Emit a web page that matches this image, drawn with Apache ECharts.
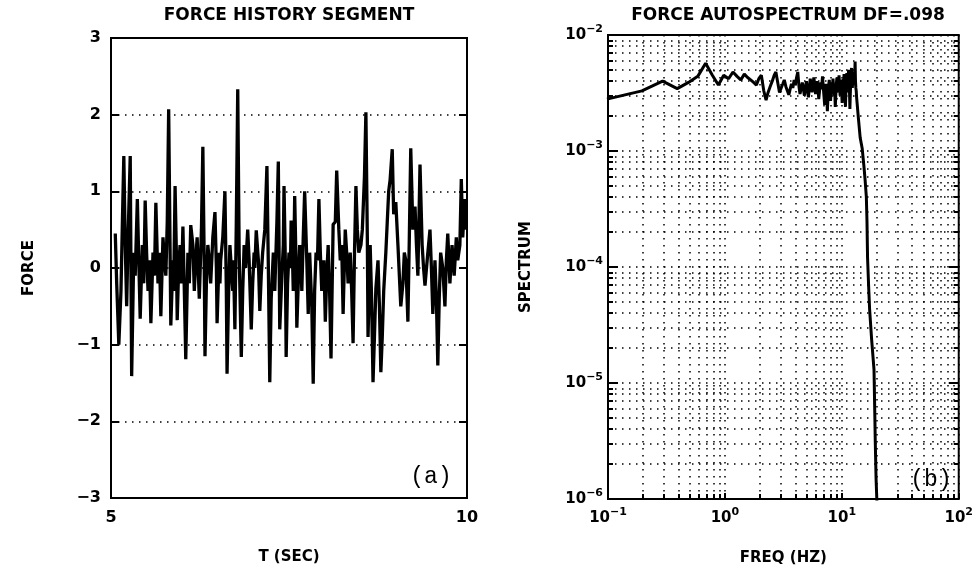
<!DOCTYPE html>
<html>
<head>
<meta charset="utf-8">
<title>Force history / autospectrum</title>
<script src="https://cdn.jsdelivr.net/npm/echarts@6/dist/echarts.min.js"></script>
<style>
  html, body { margin: 0; padding: 0; background: #fff; }
  #main { width: 976px; height: 582px; }
</style>
</head>
<body>
<div id="main"></div>
<script>
// (a) 力时程片段 [T (sec), force]
const forceHistory = [
  [5.06, 0.45], [5.08, -0.2], [5.11, -1.0], [5.14, -0.3], [5.16, 0.6], [5.18, 1.46],
  [5.2, 0.3], [5.22, -0.5], [5.24, 0.4], [5.27, 1.46], [5.29, -1.41], [5.32, 0.2],
  [5.34, -0.1], [5.37, 0.9], [5.39, 0.1], [5.41, -0.66], [5.44, 0.3], [5.46, -0.2],
  [5.48, 0.88], [5.5, 0.2], [5.52, -0.3], [5.54, 0.1], [5.56, -0.72], [5.59, 0.2],
  [5.61, -0.1], [5.63, 0.85], [5.66, -0.2], [5.68, 0.2], [5.7, -0.63], [5.73, 0.4],
  [5.75, 0.1], [5.77, -0.1], [5.79, 0.6], [5.81, 2.07], [5.83, 0.2], [5.84, -0.75],
  [5.87, 0.1], [5.88, -0.3], [5.9, 1.07], [5.92, 0.1], [5.93, -0.68], [5.95, 0.0],
  [5.97, 0.3], [5.99, -0.2], [6.01, 0.54], [6.03, -0.3], [6.05, -1.19], [6.08, 0.2],
  [6.1, -0.2], [6.12, 0.56], [6.15, 0.3], [6.17, -0.3], [6.19, 0.1], [6.21, 0.4],
  [6.22, 0.1], [6.24, -0.4], [6.27, 0.5], [6.29, 1.58], [6.31, 0.0], [6.32, -1.15],
  [6.34, -0.2], [6.36, 0.3], [6.38, 0.1], [6.4, -0.2], [6.43, 0.4], [6.46, 0.73],
  [6.48, 0.0], [6.49, -0.72], [6.52, 0.2], [6.53, -0.2], [6.54, 0.1], [6.57, 0.4],
  [6.6, 1.0], [6.62, -0.3], [6.63, -1.38], [6.65, -0.4], [6.67, 0.3], [6.69, 0.0],
  [6.71, -0.3], [6.72, 0.1], [6.74, -0.8], [6.76, 0.6], [6.78, 2.33], [6.8, 0.2],
  [6.83, -1.16], [6.85, -0.3], [6.87, 0.3], [6.89, 0.0], [6.92, 0.5], [6.94, 0.1],
  [6.97, -0.8], [6.99, -0.2], [7.01, 0.2], [7.02, 0.0], [7.04, 0.49], [7.07, 0.1],
  [7.09, -0.56], [7.11, -0.1], [7.13, 0.2], [7.16, 0.5], [7.19, 1.33], [7.21, 0.0],
  [7.23, -1.49], [7.25, -0.4], [7.28, 0.2], [7.3, -0.3], [7.33, 0.6], [7.35, 1.39],
  [7.37, -0.8], [7.4, -0.1], [7.42, 0.3], [7.43, 1.07], [7.45, 0.0], [7.46, -1.16],
  [7.48, -0.2], [7.5, 0.2], [7.52, 0.0], [7.53, 0.62], [7.55, 0.1], [7.56, -0.3],
  [7.58, 0.94], [7.6, 0.0], [7.61, -0.78], [7.63, -0.2], [7.65, 0.3], [7.67, 0.0],
  [7.68, -0.3], [7.7, 0.4], [7.72, 1.0], [7.75, 0.1], [7.77, -0.6], [7.79, 0.2],
  [7.82, -0.5], [7.84, -1.51], [7.86, -0.3], [7.88, 0.2], [7.9, 0.1], [7.92, 0.9],
  [7.94, 0.2], [7.96, -0.3], [7.99, 0.1], [8.01, -0.7], [8.03, -0.1], [8.05, 0.3],
  [8.07, -0.3], [8.09, -1.18], [8.12, 0.57], [8.15, 0.6], [8.17, 1.27], [8.2, 0.5],
  [8.22, 0.1], [8.24, 0.3], [8.26, -0.6], [8.29, 0.5], [8.31, 0.2], [8.33, -0.2],
  [8.36, 0.2], [8.38, -0.3], [8.4, -0.98], [8.42, 0.2], [8.44, 1.07], [8.46, 0.5],
  [8.48, 0.2], [8.51, 0.3], [8.53, 0.5], [8.56, 1.2], [8.58, 2.03], [8.6, 0.4],
  [8.61, -0.9], [8.64, 0.3], [8.66, -0.4], [8.68, -1.49], [8.7, -0.9], [8.72, -0.27],
  [8.75, 0.1], [8.77, -0.5], [8.79, -1.36], [8.81, -0.9], [8.83, -0.3], [8.86, 0.2],
  [8.88, 0.6], [8.9, 1.0], [8.92, 1.15], [8.95, 1.55], [8.97, 0.7], [9.0, 0.86],
  [9.03, 0.3], [9.05, -0.1], [9.07, -0.5], [9.1, -0.2], [9.12, 0.2], [9.14, 0.1],
  [9.17, -0.7], [9.19, 0.4], [9.21, 1.56], [9.24, 0.5], [9.27, 0.8], [9.29, 0.3],
  [9.31, -0.1], [9.34, 1.35], [9.37, 0.3], [9.39, 0.0], [9.41, -0.23], [9.45, 0.2],
  [9.48, 0.5], [9.5, 0.0], [9.52, -0.6], [9.55, 0.1], [9.57, -0.4], [9.59, -1.27],
  [9.61, -0.4], [9.63, 0.2], [9.66, 0.0], [9.69, -0.5], [9.71, 0.1], [9.73, 0.45],
  [9.76, -0.2], [9.79, 0.3], [9.82, -0.1], [9.85, 0.4], [9.87, 0.1], [9.9, 0.3],
  [9.92, 1.16], [9.94, 0.4], [9.97, 0.9], [9.99, 0.5],
]

// (b) 力自谱, DF = .098 Hz
const specFreq = [
  0.098, 0.195, 0.293, 0.391, 0.488, 0.586, 0.684, 0.781, 0.879, 0.977,
  1.074, 1.172, 1.27, 1.367, 1.465, 1.563, 1.66, 1.76, 1.86, 1.95,
  2.05, 2.15, 2.25, 2.34, 2.44, 2.54, 2.64, 2.73, 2.83, 2.93,
  3.03, 3.13, 3.22, 3.32, 3.42, 3.52, 3.61, 3.71, 3.81, 3.91,
  4.0, 4.1, 4.2, 4.3, 4.39, 4.49, 4.59, 4.69, 4.79, 4.88,
  4.98, 5.08, 5.18, 5.27, 5.37, 5.47, 5.57, 5.66, 5.76, 5.86,
  5.96, 6.05, 6.15, 6.25, 6.35, 6.45, 6.54, 6.64, 6.74, 6.84,
  6.93, 7.03, 7.13, 7.23, 7.32, 7.42, 7.52, 7.62, 7.71, 7.81,
  7.91, 8.01, 8.1, 8.2, 8.3, 8.4, 8.5, 8.59, 8.69, 8.79,
  8.89, 8.98, 9.08, 9.18, 9.28, 9.38, 9.47, 9.57, 9.67, 9.77,
  9.86, 9.96, 10.06, 10.16, 10.25, 10.35, 10.45, 10.55, 10.64, 10.74,
  10.84, 10.94, 11.04, 11.13, 11.23, 11.33, 11.43, 11.52, 11.62, 11.72,
  11.82, 11.91, 12.01, 12.11, 12.21, 12.3, 12.4, 12.5, 12.6, 12.7,
  12.79, 12.89, 12.99, 13.09, 13.18, 13.28, 13.38, 13.87, 14.36, 14.94,
  15.43, 15.82, 16.21, 16.41, 16.6, 16.99, 17.29, 17.97, 18.55, 18.85,
  19.14, 19.34, 19.63, 19.92, 20.12,
]
const specValue = [
  2.8e-3, 3.3e-3, 4.0e-3, 3.45e-3, 3.9e-3, 4.4e-3, 5.7e-3, 4.5e-3, 3.7e-3, 4.5e-3,
  4.2e-3, 4.8e-3, 4.4e-3, 4.1e-3, 4.6e-3, 4.3e-3, 4.1e-3, 3.9e-3, 3.7e-3, 4.2e-3,
  4.5e-3, 3.3e-3, 2.75e-3, 3.2e-3, 3.6e-3, 4.0e-3, 4.5e-3, 4.8e-3, 3.9e-3, 3.2e-3,
  3.5e-3, 3.8e-3, 4.1e-3, 3.6e-3, 3.3e-3, 3.05e-3, 3.4e-3, 3.8e-3, 3.5e-3, 4.1e-3,
  3.7e-3, 4.3e-3, 4.8e-3, 3.6e-3, 3.1e-3, 3.5e-3, 3.9e-3, 3.4e-3, 3.0e-3, 3.6e-3,
  4.0e-3, 3.3e-3, 2.9e-3, 3.5e-3, 4.2e-3, 3.7e-3, 3.2e-3, 3.6e-3, 4.3e-3, 3.8e-3,
  3.1e-3, 3.4e-3, 4.0e-3, 3.5e-3, 2.8e-3, 3.3e-3, 3.9e-3, 3.4e-3, 3.7e-3, 4.4e-3,
  3.6e-3, 3.0e-3, 2.5e-3, 3.2e-3, 3.8e-3, 3.3e-3, 2.2e-3, 2.9e-3, 3.6e-3, 4.1e-3,
  3.4e-3, 2.7e-3, 3.3e-3, 3.9e-3, 3.5e-3, 4.2e-3, 3.6e-3, 3.0e-3, 3.4e-3, 2.4e-3,
  3.1e-3, 3.8e-3, 4.3e-3, 3.7e-3, 3.2e-3, 3.9e-3, 4.5e-3, 3.6e-3, 3.0e-3, 3.5e-3,
  4.1e-3, 3.3e-3, 2.6e-3, 3.4e-3, 4.2e-3, 3.7e-3, 4.6e-3, 3.8e-3, 3.1e-3, 2.4e-3,
  3.3e-3, 4.0e-3, 4.7e-3, 3.8e-3, 3.2e-3, 4.3e-3, 5.0e-3, 4.1e-3, 3.4e-3, 2.3e-3,
  3.1e-3, 3.9e-3, 4.6e-3, 5.2e-3, 4.2e-3, 3.5e-3, 4.1e-3, 4.8e-3, 4.0e-3, 4.4e-3,
  3.7e-3, 4.5e-3, 5.9e-3, 4.0e-3, 3.5e-3, 3.3e-3, 2.9e-3, 1.9e-3, 1.3e-3, 1.05e-3,
  7.5e-4, 5.6e-4, 4.0e-4, 2.5e-4, 1.2e-4, 6.5e-5, 4.3e-5, 2.4e-5, 1.6e-5, 1.3e-5,
  5.5e-6, 3.0e-6, 1.5e-6, 1.0e-6, 7.0e-7,
]

let font = '"DejaVu Sans", sans-serif',
  dotted = { color: '#000', width: 1.5, type: [1.5, 5.5] },
  tickStyle = { color: '#000', width: 2 }

let boldText = { fontFamily: font, fontWeight: 'bold', fontSize: 15, color: '#000' }

// 10 的幂标签, 用 rich 做上标
let powLabel = {
  fontFamily: font,
  formatter: (v) => {
    let p = Math.round(Math.log10(v))
    return `{b|10}{s|${p < 0 ? '−' + -p : p}}`
  },
  rich: {
    b: { fontFamily: font, fontWeight: 'bold', fontSize: 15, lineHeight: 22, color: '#000' },
    s: { fontFamily: font, fontWeight: 'bold', fontSize: 11, verticalAlign: 'top', color: '#000' },
  },
}

// 对数轴: 次刻度 splitNumber 9 -> 2..9 x 10^n
let logMinor = {
  minorTick: { show: true, splitNumber: 9, length: 5, lineStyle: tickStyle },
  minorSplitLine: { show: true, lineStyle: dotted },
}

let chart = echarts.init(document.getElementById('main'))

chart.setOption({
  animation: false,
  backgroundColor: '#fff',
  grid: [
    { left: 111, top: 38, width: 356, height: 460, show: true, borderColor: '#000', borderWidth: 2 },
    { left: 608, top: 35, width: 355, height: 464, show: true, borderColor: '#000', borderWidth: 2 },
  ],
  xAxis: [
    {
      type: 'value', gridIndex: 0, min: 5, max: 10, interval: 5,
      axisLine: { show: false }, axisTick: { show: false }, splitLine: { show: false },
      axisLabel: { ...boldText, fontSize: 16, margin: 12 },
      name: 'T (SEC)', nameLocation: 'middle', nameGap: 52, nameTextStyle: boldText,
    },
    {
      type: 'log', logBase: 10, gridIndex: 1, min: 0.1, max: 100,
      axisLine: { show: false },
      axisTick: { show: true, inside: true, length: 6, lineStyle: tickStyle },
      splitLine: { show: true, lineStyle: dotted },
      ...logMinor,
      axisLabel: { ...powLabel, margin: 8 },
      name: 'FREQ (HZ)', nameLocation: 'middle', nameGap: 52, nameTextStyle: boldText,
    },
  ],
  yAxis: [
    {
      type: 'value', gridIndex: 0, min: -3, max: 3, interval: 1,
      axisLine: { show: false },
      axisTick: { show: true, inside: true, length: 8, lineStyle: tickStyle },
      splitLine: { show: true, lineStyle: dotted },
      axisLabel: { ...boldText, fontSize: 16, margin: 10, formatter: (v) => (v < 0 ? '−' + -v : String(v)) },
      name: 'FORCE', nameLocation: 'middle', nameRotate: 90, nameGap: 74, nameTextStyle: boldText,
    },
    {
      type: 'value', gridIndex: 0, position: 'right', min: -3, max: 3, interval: 1,
      axisLine: { show: false }, axisLabel: { show: false }, splitLine: { show: false },
      axisTick: { show: true, inside: true, length: 8, lineStyle: tickStyle },
    },
    {
      type: 'log', logBase: 10, gridIndex: 1, min: 1e-6, max: 1e-2,
      axisLine: { show: false },
      axisTick: { show: true, inside: true, length: 10, lineStyle: tickStyle },
      splitLine: { show: true, lineStyle: dotted },
      ...logMinor,
      axisLabel: { ...powLabel, margin: 5 },
      name: 'SPECTRUM', nameLocation: 'middle', nameRotate: 90, nameGap: 74, nameTextStyle: boldText,
    },
    {
      type: 'log', logBase: 10, gridIndex: 1, position: 'right', min: 1e-6, max: 1e-2,
      axisLine: { show: false }, axisLabel: { show: false }, splitLine: { show: false },
      axisTick: { show: true, inside: true, length: 10, lineStyle: tickStyle },
      minorTick: { show: true, splitNumber: 9, length: 5, lineStyle: tickStyle },
    },
  ],
  graphic: [
    {
      type: 'text', x: 289, y: 16,
      style: { text: 'FORCE HISTORY SEGMENT', font: `bold 17px ${font}`, fill: '#000', align: 'center', verticalAlign: 'middle' },
    },
    {
      type: 'text', x: 788, y: 16,
      style: { text: 'FORCE AUTOSPECTRUM DF=.098', font: `bold 17px ${font}`, fill: '#000', align: 'center', verticalAlign: 'middle' },
    },
    {
      type: 'text', x: 431, y: 477,
      style: { text: '(a)', font: '23px "Liberation Mono", monospace', fill: '#000', align: 'center', verticalAlign: 'middle' },
    },
    {
      type: 'text', x: 931, y: 480,
      style: { text: '(b)', font: '23px "Liberation Mono", monospace', fill: '#000', align: 'center', verticalAlign: 'middle' },
    },
  ],
  series: [
    {
      type: 'line', xAxisIndex: 0, yAxisIndex: 0,
      data: forceHistory,
      showSymbol: false, z: 3,
      lineStyle: { color: '#000', width: 3.3 },
    },
    {
      type: 'line', xAxisIndex: 1, yAxisIndex: 2,
      data: specFreq.map((f, i) => [f, specValue[i]]),
      showSymbol: false, z: 3,
      lineStyle: { color: '#000', width: 3 },
    },
  ],
})
</script>
</body>
</html>
